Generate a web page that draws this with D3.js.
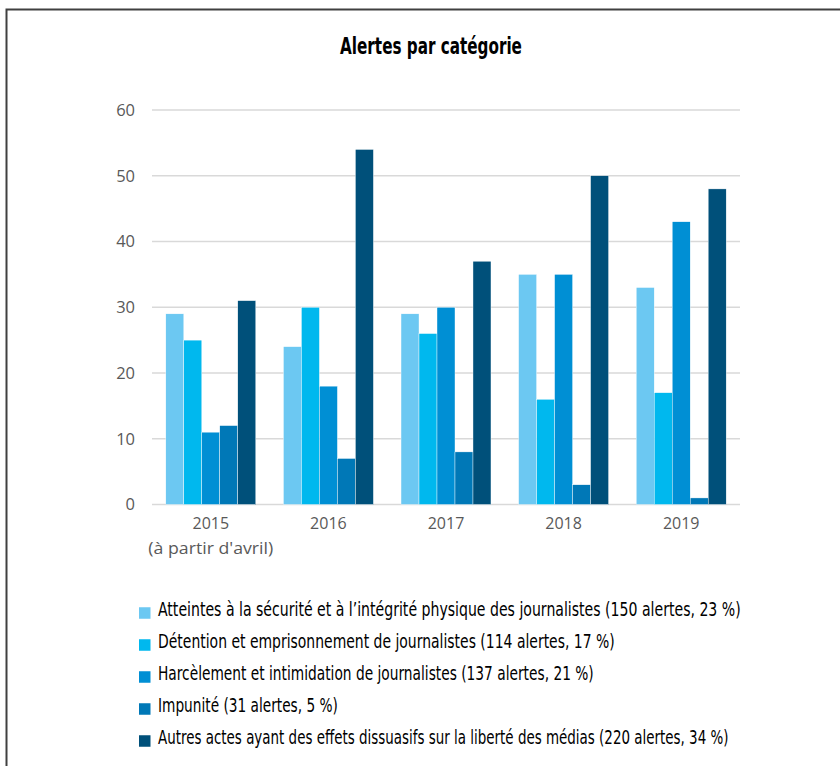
<!DOCTYPE html>
<html><head><meta charset="utf-8">
<script src="https://cdn.jsdelivr.net/npm/d3@7"></script>
<style>body{margin:0;background:#fff}svg{display:block}</style>
</head><body>
<svg id="chart" width="840" height="766"></svg>
<script>
const years = ["2015", "2016", "2017", "2018", "2019"];
const yearSub = ["(à partir d'avril)", "", "", "", ""];
const seriesNames = [
  "Atteintes à la sécurité et à l\u2019intégrité physique des journalistes (150 alertes, 23 %)",
  "Détention et emprisonnement de journalistes (114 alertes, 17 %)",
  "Harcèlement et intimidation de journalistes (137 alertes, 21 %)",
  "Impunité (31 alertes, 5 %)",
  "Autres actes ayant des effets dissuasifs sur la liberté des médias (220 alertes, 34 %)"
];
const atteintes = [29, 24, 29, 35, 33];
const detention = [25, 30, 26, 16, 17];
const harcelement = [11, 18, 30, 35, 43];
const impunite = [12, 7, 8, 3, 1];
const autres = [31, 54, 37, 50, 48];
const yTicks = [0, 10, 20, 30, 40, 50, 60];
const colors = ["#6cc8f2", "#00b8ee", "#008fd4", "#0078b7", "#00507a"];
const legendWidths = [583, 457, 436, 180, 571];

const series = [atteintes, detention, harcelement, impunite, autres];
const svg = d3.select("#chart");
const narrow = "'Liberation Sans Narrow','DejaVu Sans Condensed',sans-serif";

function fitWidth(sel, x, yy, target) {
  sel.each(function (d, i) {
    const t = typeof target === "function" ? target(d, i) : target;
    const w = this.getComputedTextLength();
    const s = w > 0 ? t / w : 1;
    d3.select(this).attr("transform", `translate(${x},${yy}) scale(${s},1)`);
  });
}

svg.append("rect").attr("x", 6.5).attr("y", 9.5).attr("width", 900).attr("height", 900)
  .attr("fill", "none").attr("stroke", "#404040").attr("stroke-width", 2);

const title = svg.append("text").attr("text-anchor", "middle")
  .attr("font-family", narrow)
  .attr("font-weight", "bold").attr("font-size", 23).attr("fill", "#000")
  .text("Alertes par catégorie");
fitWidth(title, 431, 53.5, 182);

const x0 = d3.scaleBand().domain(years).range([152, 740]).paddingInner(0.235).paddingOuter(0.1175);
const x1 = d3.scaleBand().domain(d3.range(series.length)).range([0, x0.bandwidth()]);
const y = d3.scaleLinear().domain([0, 60]).range([504.5, 110]);

const grid = svg.append("g");
grid.selectAll("line").data(yTicks).join("line")
  .attr("x1", 152).attr("x2", 740)
  .attr("y1", d => y(d)).attr("y2", d => y(d))
  .attr("stroke", "#d9d9d9").attr("stroke-width", 1.5);

const yAxis = svg.append("g").attr("transform", "translate(141,0)")
  .call(d3.axisLeft(y).tickValues(yTicks).tickSize(0).tickPadding(6));
yAxis.select(".domain").remove();
yAxis.selectAll("text").attr("font-family", "'Open Sans',sans-serif").attr("font-size", 16.5).attr("fill", "#595959");

const groups = svg.append("g").selectAll("g").data(years).join("g")
  .attr("transform", d => `translate(${x0(d)},0)`);
groups.selectAll("rect").data((d, i) => series.map((s, k) => ({k, v: s[i]}))).join("rect")
  .attr("x", d => x1(d.k)).attr("width", x1.bandwidth())
  .attr("y", d => y(d.v)).attr("height", d => y(0) - y(d.v))
  .attr("fill", d => colors[d.k]).attr("stroke", "#fff").attr("stroke-width", 0.4);

const xAxis = svg.append("g").attr("transform", "translate(0,512)")
  .call(d3.axisBottom(x0).tickSize(0).tickPadding(6));
xAxis.select(".domain").remove();
xAxis.selectAll("text").attr("font-family", "'Open Sans',sans-serif").attr("font-size", 16).attr("fill", "#595959");
const sub = xAxis.selectAll(".tick").filter((d, i) => yearSub[i]).append("text")
  .attr("text-anchor", "middle")
  .attr("font-family", "'Open Sans',sans-serif").attr("font-size", 16).attr("fill", "#595959")
  .text(d => yearSub[years.indexOf(d)]);
fitWidth(sub, 0, 42, 125);

const legend = svg.append("g").selectAll("g").data(seriesNames).join("g")
  .attr("transform", (d, i) => `translate(139,${613 + i * 32})`);
legend.append("rect").attr("x", 0).attr("y", -5.75).attr("width", 11.5).attr("height", 11.5)
  .attr("fill", (d, i) => colors[i]);
const ltext = legend.append("text")
  .attr("font-family", narrow)
  .attr("font-size", 20).attr("fill", "#000")
  .text(d => d);
fitWidth(ltext, 19, 3, (d, i) => legendWidths[i]);
</script>
</body></html>
